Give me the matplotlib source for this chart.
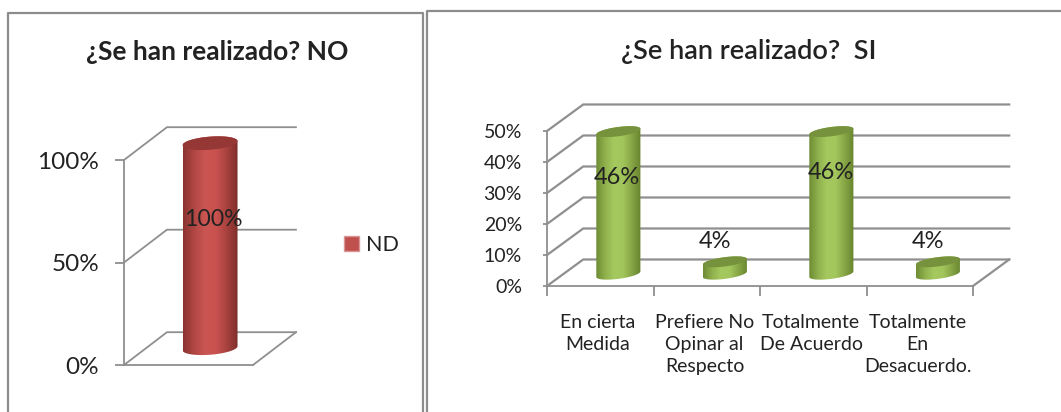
import numpy as np
import matplotlib
matplotlib.use("Agg")
import matplotlib.pyplot as plt
from matplotlib.colors import LinearSegmentedColormap
from matplotlib.lines import Line2D
from matplotlib.patches import Patch, Polygon

plt.rcParams['font.family'] = ['Lato', 'DejaVu Sans']

W, H = 1061, 412

# left chart
no_title = "¿Se han realizado? NO"
no_series = ["ND"]
no_values = [100]
no_ticks = [0, 50, 100]
no_tick_labels = ["0%", "50%", "100%"]
no_labels = ["100%"]
no_label_y = [71]

# right chart
si_title = "¿Se han realizado?  SI"
si_categories = ["En cierta\nMedida", "Prefiere No\nOpinar al\nRespecto",
                 "Totalmente\nDe Acuerdo", "Totalmente\nEn\nDesacuerdo."]
si_values = [46, 4, 46, 4]
si_ticks = [0, 10, 20, 30, 40, 50]
si_tick_labels = ["0%", "10%", "20%", "30%", "40%", "50%"]
si_labels = ["46%", "4%", "46%", "4%"]
si_label_x = [0.66, 1.58, 2.67, 3.58]
si_label_y = [35, 14.5, 36.5, 14.5]

GRID = "#8f8f8f"
TEXT = "#222222"

red_map = LinearSegmentedColormap.from_list(
    "red", ["#8a3330", "#b04744", "#cb5552", "#c9524f", "#a8423f", "#7d2d2a"])
green_map = LinearSegmentedColormap.from_list(
    "green", ["#6d8c33", "#8fb04d", "#a5c95f", "#a2c55c", "#86a545", "#66832e"])


def axes_at(fig, x0, x1, ytop, ybot):
    return fig.add_axes([x0 / W, 1 - ybot / H, (x1 - x0) / W, (ybot - ytop) / H])


def draw_walls(ax, ticks, dx, dy, right, lw):
    # gridlines run up the side wall and then along the back wall
    for v in ticks:
        ax.plot([0, dx, right + dx], [v, v + dy, v + dy], color=GRID, lw=lw,
                clip_on=False, zorder=1, solid_joinstyle="miter")
    ax.plot([right, right + dx], [ticks[0], ticks[0] + dy], color=GRID, lw=lw,
            clip_on=False, zorder=1)


def cylinder(ax, xc, base, top, hw, ry, tilt, cmap, cap):
    t = np.linspace(0, np.pi, 60)
    bx = xc - hw * np.cos(t)
    by = base - ry * np.sin(t) + tilt * (-np.cos(t))
    tx = xc + hw * np.cos(t)
    ty = top + tilt * np.cos(t) + ry * np.sin(t)
    body = np.column_stack([np.r_[bx, tx], np.r_[by, ty]])
    clip = Polygon(body, closed=True, transform=ax.transData, fc="none", ec="none")
    ax.add_patch(clip)
    clip.set_clip_on(False)
    grad = np.linspace(0, 1, 256).reshape(1, -1)
    im = ax.imshow(grad, cmap=cmap, aspect="auto", zorder=3,
                   extent=[xc - hw, xc + hw, base - ry - abs(tilt), top + ry + abs(tilt)])
    im.set_clip_box(ax.figure.bbox)
    im.set_clip_path(clip)
    ellipse = np.linspace(0, 2 * np.pi, 80)
    ax.add_patch(Polygon(np.column_stack([xc + hw * np.cos(ellipse),
                                          top + ry * np.sin(ellipse) + tilt * np.cos(ellipse)]),
                         closed=True, fc=cap, ec="none", zorder=4, clip_on=False))


def style_axes(ax, ticks, tick_labels, size, length, pad):
    for s in ["top", "right"]:
        ax.spines[s].set_visible(False)
    for s in ["left", "bottom"]:
        ax.spines[s].set_color(GRID)
        ax.spines[s].set_linewidth(1.3)
    ax.set_yticks(ticks, tick_labels)
    ax.tick_params(axis="y", length=length, width=1.3, color=GRID, labelsize=size,
                   labelcolor=TEXT, pad=pad)


fig = plt.figure(figsize=(W / 100, H / 100), dpi=100, facecolor="white")

# frames around the two charts
for xs, ys in [([8, 8, 423, 423], [412, 13, 13, 412]),
               ([427, 427, 1061], [412, 11, 11])]:
    fig.add_artist(Line2D(np.array(xs) / W, 1 - np.array(ys) / H, color="#8c8c8c", lw=1.6))

# left chart: front plane 124-253 px, 0% at 365, 100% at 160
ax1 = axes_at(fig, 124, 253, 160, 365)
style_axes(ax1, no_ticks, no_tick_labels, 17.5, 6.5, 11.5)
ax1.set_xticks([])
draw_walls(ax1, no_ticks, 0.333, 16, 1, 1.3)
cylinder(ax1, 0.667, 8.2, 8.2 + no_values[0], 0.213, 3.2, 1.0, red_map, "#953735")
ax1.set_xlim(0, 1)
ax1.set_ylim(0, 100)
ax1.text(0.69, no_label_y[0], no_labels[0], ha="center", va="center", fontsize=16.6,
         color=TEXT, zorder=6)
ax1.legend(handles=[Patch(fc="#c0504d", ec="#d99694", label=no_series[0])], loc="center left",
           bbox_to_anchor=(344 / W, 1 - 245 / H), bbox_transform=fig.transFigure,
           frameon=False, fontsize=15.5, handlelength=0.7, handleheight=0.7,
           handletextpad=0.3, borderpad=0, borderaxespad=0, labelcolor=TEXT)
fig.text(217 / W, 1 - 52 / H, no_title, ha="center", va="center", fontsize=19,
         fontweight="bold", color=TEXT)

# right chart: front plane 547-973 px, 0% at 286, 50% at 131
ax2 = axes_at(fig, 547, 973, 131, 286)
style_axes(ax2, si_ticks, si_tick_labels, 14, 3, 15)
draw_walls(ax2, si_ticks, 0.34, 8.55, 4, 1.6)
x = np.arange(len(si_values))
for i, v in enumerate(si_values):
    cylinder(ax2, i + 0.5 + 0.17, 3.8, 3.8 + v, 0.207, 1.5, 0.9, green_map, "#76923c")
    ax2.text(si_label_x[i], si_label_y[i], si_labels[i], ha="center", va="center",
             fontsize=17, color=TEXT, zorder=6)
ax2.set_xlim(0, 4)
ax2.set_ylim(0, 50)
ax2.set_xticks(x + 0.48, si_categories)
ax2.set_xticks(np.arange(5), minor=True)
ax2.tick_params(axis="x", which="major", length=0, pad=20, labelsize=14, labelcolor=TEXT)
ax2.tick_params(axis="x", which="minor", length=7, width=1.3, color=GRID)
for lab in ax2.get_xticklabels():
    lab.set_linespacing(1.36)
fig.text(749 / W, 1 - 51 / H, si_title, ha="center", va="center", fontsize=19.5,
         fontweight="semibold", color=TEXT)

fig.savefig("out.png", dpi=100)
